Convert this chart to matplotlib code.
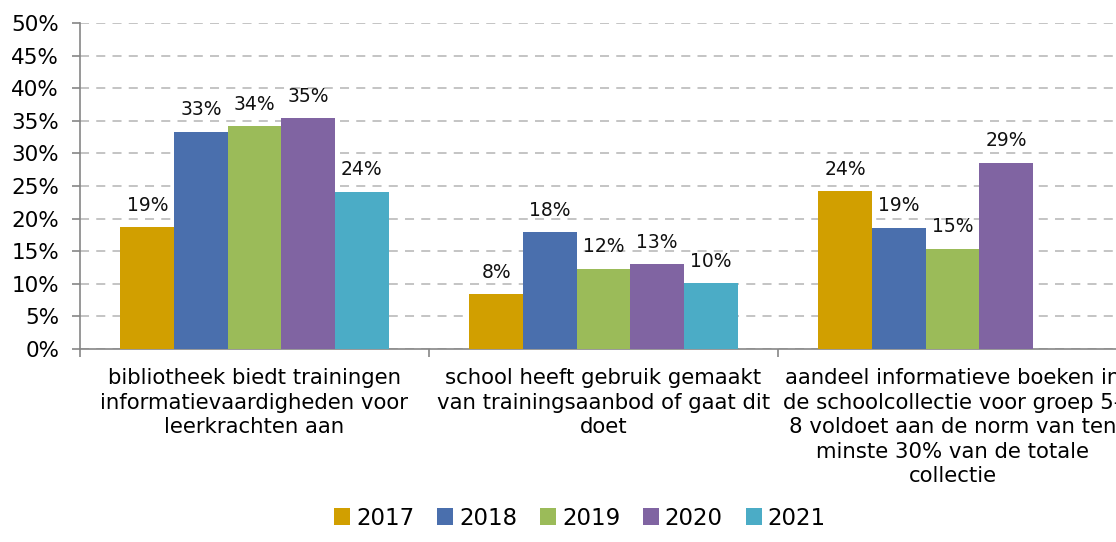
import numpy as np
import matplotlib.pyplot as plt

categories = [
    "bibliotheek biedt trainingen\ninformatievaardigheden voor\nleerkrachten aan",
    "school heeft gebruik gemaakt\nvan trainingsaanbod of gaat dit\ndoet",
    "aandeel informatieve boeken in\nde schoolcollectie voor groep 5-\n8 voldoet aan de norm van ten\nminste 30% van de totale\ncollectie",
]
years = ["2017", "2018", "2019", "2020", "2021"]
v2017 = [18.7, 8.4, 24.2]
v2018 = [33.3, 17.9, 18.6]
v2019 = [34.2, 12.3, 15.4]
v2020 = [35.4, 13.0, 28.6]
v2021 = [24.1, 10.1, None]
labels = [["19%", "8%", "24%"], ["33%", "18%", "19%"], ["34%", "12%", "15%"],
          ["35%", "13%", "29%"], ["24%", "10%", None]]
colors = ["#D19F00", "#4A6FAD", "#9BBB59", "#8064A2", "#4BACC6"]

series = [v2017, v2018, v2019, v2020, v2021]

fig = plt.figure(figsize=(11.16, 5.42), dpi=100)
ax = fig.add_axes([80 / 1116, 1 - 349 / 542, 1047 / 1116, 326 / 542])

bw = 0.1536
x = np.arange(len(categories)) + 0.5
for i, (vals, c) in enumerate(zip(series, colors)):
    for j, v in enumerate(vals):
        if v is None:
            continue
        pos = x[j] + (i - 2) * bw
        ax.bar(pos, v, width=bw, color=c, label=years[i] if j == 0 else None,
               zorder=3)
        ax.text(pos, v + 1.9, labels[i][j], ha="center", va="bottom",
                fontsize=13.5, color="#111111", zorder=4)

ax.set_xlim(0, 3)
ax.set_ylim(0, 50)
ax.set_yticks(range(0, 51, 5))
ax.set_yticklabels([f"{t}%" for t in range(0, 51, 5)], fontsize=15.5)
ax.set_xticks([0, 1, 2, 3])
ax.set_xticklabels([])
ax.set_xticks(x, minor=True)
ax.set_xticklabels(categories, minor=True, fontsize=15.3, linespacing=1.28)
ax.tick_params(axis="x", which="minor", length=0, pad=14)
ax.tick_params(axis="x", which="major", length=6, color="#868686", width=1.2)
ax.tick_params(axis="y", length=6, color="#868686", width=1.2, pad=9)

ax.yaxis.grid(True, linestyle=(0, (5, 4)), color="#BFBFBF", linewidth=1.3, zorder=0)
for s in ["top", "right"]:
    ax.spines[s].set_visible(False)
for s in ["left", "bottom"]:
    ax.spines[s].set_color("#868686")
    ax.spines[s].set_linewidth(1.2)

fig.legend(loc="lower center", bbox_to_anchor=(580 / 1116, -0.015), ncol=5,
           frameon=False, fontsize=16.5, handlelength=0.7, handleheight=0.7,
           handletextpad=0.25, columnspacing=1.0)

fig.savefig("out.png", dpi=100)
